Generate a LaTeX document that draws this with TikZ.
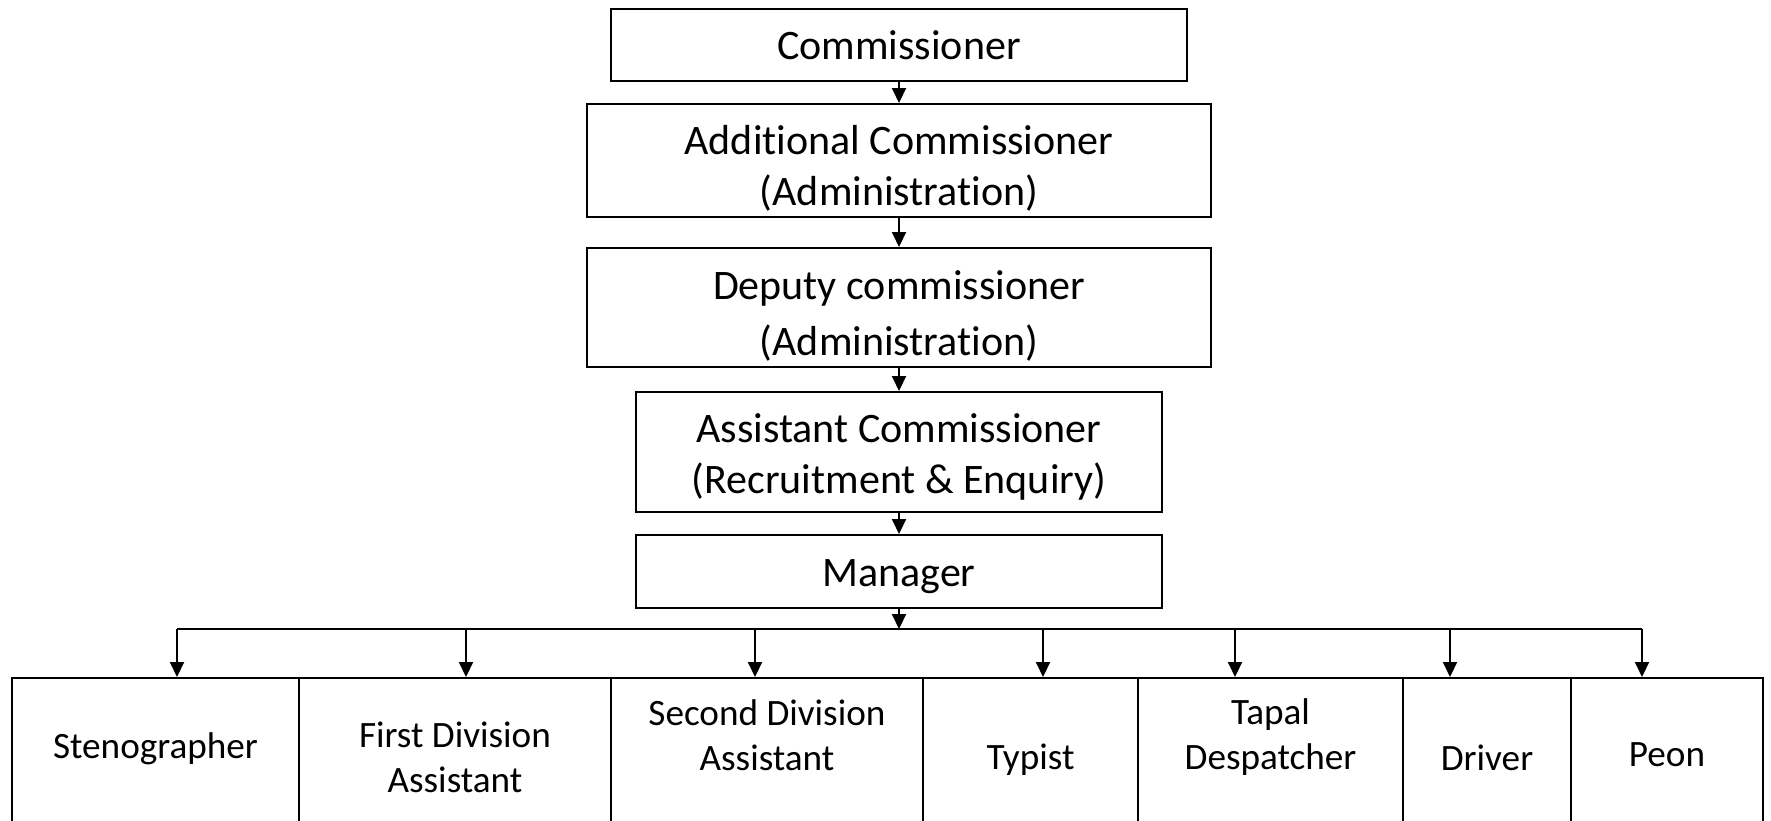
\documentclass[tikz,border=0pt]{standalone}
\usepackage{fontspec}
\setmainfont{Carlito}[Ligatures={NoCommon,NoContextual,NoRare}]
\usetikzlibrary{arrows.meta}
\newcommand\tinolig{t\kern0pt i}
\begin{document}
\begin{tikzpicture}[x=0.5pt,y=-0.5pt, line width=1pt,
  box/.style={draw, line width=1pt, inner sep=0pt, anchor=north west},
  big/.style={font=\fontsize{21pt}{25.5pt}\selectfont, align=center, inner sep=0pt},
  small/.style={font=\fontsize{18.6pt}{22.5pt}\selectfont, align=center, inner sep=0pt},
  arr/.style={-{Triangle[length=7.5pt,width=7pt]}, line width=1pt}]
\useasboundingbox (0,0) rectangle (1771,820);
\clip (0,0) rectangle (1771,820);
% upper chain
\node[box, minimum width=288pt, minimum height=36pt] (c1) at (610,8) {};
\node[box, minimum width=312pt, minimum height=56.5pt] (c2) at (586,103) {};
\node[box, minimum width=312pt, minimum height=59.5pt] (c3) at (586,247) {};
\node[box, minimum width=263pt, minimum height=60pt] (c4) at (635,391) {};
\node[box, minimum width=263pt, minimum height=36.5pt] (c5) at (635,534) {};
\node[big] (t1) at ([yshift=-18.8pt]c1.north) {Commissioner};
\node[big] (t2) at ([yshift=-32.9pt]c2.north) {Additional Commissioner\\(Administra\tinolig on)};
\node[big] (t3) at ([yshift=-34.3pt]c3.north) {Deputy commissioner\\[2.5pt](Administra\tinolig on)};
\node[big] (t4) at ([yshift=-32.9pt]c4.north) {Assistant Commissioner\\(Recruitment \& Enquiry)};
\node[big] (t5) at ([yshift=-21.3pt]c5.north) {Manager};
\draw[arr] (c1.south) -- (c2.north);
\draw[arr] (c2.south) -- (c3.north);
\draw[arr] (c3.south) -- (c4.north);
\draw[arr] (c4.south) -- (c5.north);
% bottom row
\node[box, minimum width=143.5pt, minimum height=76.5pt] (b1) at (11,677) {};
\node[box, minimum width=156pt, minimum height=76.5pt] (b2) at (298,677) {};
\node[box, minimum width=156pt, minimum height=76.5pt] (b3) at (610,677) {};
\node[box, minimum width=107.5pt, minimum height=76.5pt] (b4) at (922,677) {};
\node[box, minimum width=132.5pt, minimum height=76.5pt] (b5) at (1137,677) {};
\node[box, minimum width=84pt, minimum height=76.5pt] (b6) at (1402,677) {};
\node[box, minimum width=96pt, minimum height=76.5pt] (b7) at (1570,677) {};
\node[small] (s1) at ([yshift=-36pt]b1.north) {Stenographer};
\node[small] (s2) at ([yshift=-40pt]b2.north) {First Division\\Assistant};
\node[small] (s3) at ([yshift=-29pt]b3.north) {Second Division\\Assistant};
\node[small] (s4) at ([yshift=-41.5pt]b4.north) {Typist};
\node[small] (s5) at ([yshift=-30pt]b5.north) {Tapal\\Despatcher};
\node[small] (s6) at ([yshift=-40.5pt]b6.north) {Driver};
\node[small] (s7) at ([yshift=-39pt]b7.north) {Peon};
% bus
\coordinate (a1) at (177,629);
\coordinate (a2) at (466,629);
\coordinate (a3) at (755,629);
\coordinate (a4) at (1043,629);
\coordinate (a5) at (1235,629);
\coordinate (a6) at (1450,629);
\coordinate (a7) at (1642,629);
\draw[arr] (c5.south) -- (c5.south |- a1);
\draw (a1) -- (a7);
\draw[arr] (a1) -- (a1 |- b1.north);
\draw[arr] (a2) -- (a2 |- b2.north);
\draw[arr] (a3) -- (a3 |- b3.north);
\draw[arr] (a4) -- (a4 |- b4.north);
\draw[arr] (a5) -- (a5 |- b5.north);
\draw[arr] (a6) -- (a6 |- b6.north);
\draw[arr] (a7) -- (a7 |- b7.north);
\end{tikzpicture}
\end{document}
